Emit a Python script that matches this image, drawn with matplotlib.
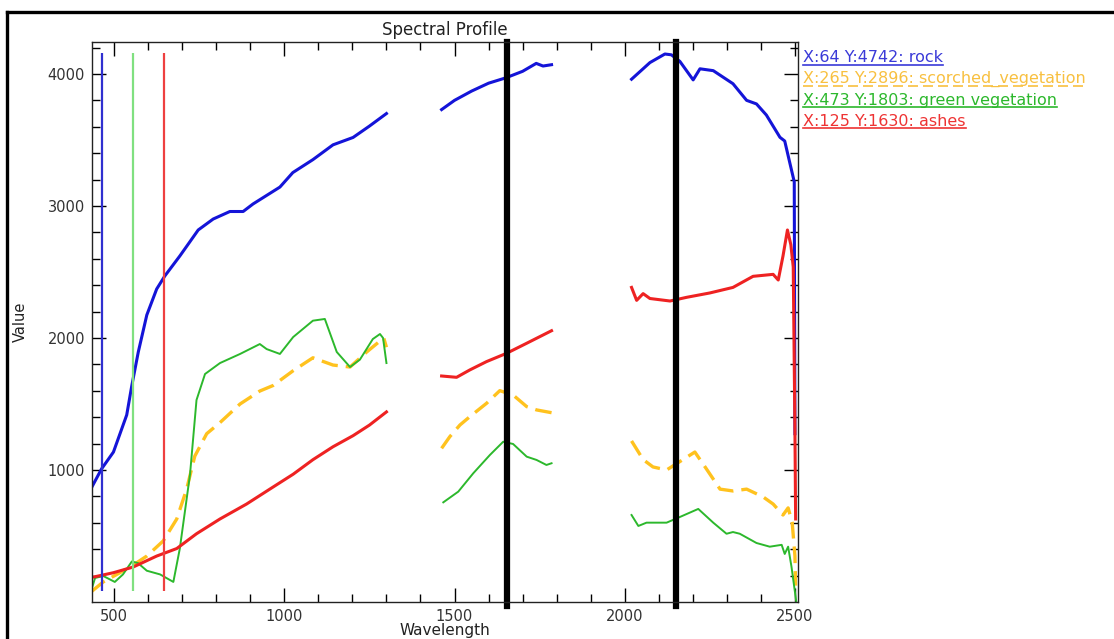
import numpy as np
import matplotlib
matplotlib.use("Agg")
import matplotlib.pyplot as plt
from matplotlib.lines import Line2D

nan = np.nan

# ---------------- data ----------------
rock_wl = [434, 463, 498, 537, 552, 571, 596, 625, 649, 693, 747, 791, 840, 879, 908,
           987, 1025, 1084, 1143, 1202, 1250, 1300, nan,
           1462, 1500, 1550, 1600, 1650, 1700, 1740, 1760, 1785, nan,
           2020, 2074, 2118, 2137, 2162, 2201, 2221, 2260, 2318, 2358, 2387, 2416,
           2456, 2470, 2485, 2498, 2500]
rock_val = [868, 1008, 1136, 1417, 1640, 1894, 2174, 2371, 2470, 2621, 2818, 2901, 2958, 2958, 3015,
            3143, 3253, 3351, 3463, 3519, 3605, 3700, nan,
            3730, 3800, 3870, 3930, 3970, 4020, 4080, 4060, 4070, nan,
            3960, 4086, 4151, 4145, 4095, 3955, 4039, 4025, 3926, 3800, 3773, 3689,
            3520, 3492, 3326, 3183, 1275]

scorched_wl = [434, 468, 517, 556, 596, 644, 684, 713, 737, 772, 811, 870, 928, 967,
               1026, 1084, 1143, 1193, 1242, 1281, 1292, 1300, nan,
               1462, 1486, 1516, 1545, 1594, 1633, 1672, 1712, 1741, 1785, nan,
               2020, 2054, 2083, 2123, 2162, 2206, 2240, 2280, 2318, 2358, 2406, 2436,
               2465, 2480, 2492, 2500, 2502]
scorched_val = [80, 152, 222, 280, 348, 462, 629, 855, 1105, 1275, 1359, 1500, 1598, 1640,
                1752, 1850, 1795, 1780, 1894, 1977, 2000, 1930, nan,
                1164, 1252, 1341, 1404, 1505, 1601, 1568, 1480, 1455, 1434, nan,
                1220, 1079, 1023, 1000, 1064, 1136, 1008, 855, 841, 855, 797, 742,
                659, 713, 601, 348, 124]

green_wl = [434, 444, 468, 502, 526, 552, 570, 596, 635, 674, 693, 723, 742, 767, 811,
            870, 928, 948, 987, 1026, 1084, 1119, 1154, 1193, 1222, 1260, 1281, 1290,
            1300, nan,
            1467, 1511, 1555, 1604, 1643, 1672, 1712, 1741, 1770, 1785, nan,
            2020, 2040, 2064, 2123, 2162, 2216, 2260, 2299, 2318, 2338, 2387, 2426,
            2461, 2470, 2480, 2490, 2504]
green_val = [98, 182, 197, 152, 209, 307, 295, 237, 209, 152, 405, 968, 1530, 1727, 1810,
             1879, 1954, 1916, 1879, 2007, 2131, 2144, 1894, 1780, 1836, 1992, 2030, 2000,
             1810, nan,
             755, 836, 975, 1114, 1214, 1197, 1101, 1076, 1038, 1051, nan,
             659, 576, 601, 601, 644, 705, 601, 517, 530, 517, 447, 419,
             433, 364, 419, 265, 0]

ashes_wl = [434, 498, 556, 625, 684, 742, 811, 889, 967, 1026, 1084, 1143, 1202, 1250,
            1300, nan,
            1462, 1506, 1545, 1594, 1653, 1712, 1785, nan,
            2020, 2035, 2054, 2074, 2133, 2182, 2250, 2318, 2377, 2436, 2451, 2465,
            2478, 2488, 2495, 2500, 2502]
ashes_val = [186, 222, 265, 348, 405, 517, 629, 742, 871, 968, 1078, 1176, 1260, 1340,
             1440, nan,
             1712, 1702, 1758, 1821, 1884, 1960, 2055, nan,
             2383, 2285, 2336, 2299, 2280, 2308, 2341, 2383, 2467, 2482, 2439, 2622,
             2818, 2706, 2538, 1300, 629]

marker_wl = [464, 555, 646]          # coloured cursor lines (rock, green, ashes)
marker_range = [83, 4159]
black_wl = [1654, 2152]              # thick black lines

legend_labels = ["X:64 Y:4742: rock",
                 "X:265 Y:2896: scorched_vegetation",
                 "X:473 Y:1803: green vegetation",
                 "X:125 Y:1630: ashes"]

x_ticks = [500, 1000, 1500, 2000, 2500]
y_ticks = [1000, 2000, 3000, 4000]

# ---------------- style ----------------
C_ROCK = "#1414d8"
C_SCOR = "#ffc21e"
C_GREEN = "#2cb82c"
C_ASH = "#ee2222"
legend_colors = ["#3a3ad8", "#f8c040", "#2cb82c", "#ee3333"]
legend_dashed = [False, True, False, False]
marker_colors = ["#3030d0", "#80e080", "#ee4040"]

fig = plt.figure(figsize=(11.14, 6.39), dpi=100)
fig.patch.set_facecolor("white")

ax = fig.add_axes([92/1114, 1-602/639, (798-92)/1114, (602-42)/639])

ax.plot(rock_wl, rock_val, color=C_ROCK, lw=2.2, solid_joinstyle="round")
ax.plot(scorched_wl, scorched_val, color=C_SCOR, lw=2.4, dashes=(5, 2.4))
ax.plot(green_wl, green_val, color=C_GREEN, lw=1.4)
ax.plot(ashes_wl, ashes_val, color=C_ASH, lw=2.2)

for x, c in zip(marker_wl, marker_colors):
    ax.vlines(x, marker_range[0], marker_range[1], color=c, lw=1.6)
for x in black_wl:
    ax.axvline(x, ymin=-0.008, ymax=1.0, color="black", lw=4.5, clip_on=False)

ax.set_xlim(435, 2509)
ax.set_ylim(0, 4242)
ax.set_xticks(x_ticks)
ax.set_xticks(np.arange(500, 2501, 100), minor=True)
ax.set_yticks(y_ticks)
ax.set_yticks(np.arange(200, 4201, 200), minor=True)
ax.tick_params(which="both", direction="in", top=True, right=True,
               labelsize=10.5, labelcolor="#333333", width=1)
ax.tick_params(which="major", length=10, pad=5)
ax.tick_params(which="minor", length=6)
for s in ax.spines.values():
    s.set_linewidth(1.0)
    s.set_color("#222222")

ax.set_title("Spectral Profile", fontsize=12, pad=5, color="#222222")
ax.set_xlabel("Wavelength", fontsize=11, labelpad=-1, color="#222222")
ax.set_ylabel("Value", fontsize=10.5, labelpad=14, color="#222222")

# outer frame (left and top edges visible)
fig.add_artist(Line2D([7/1114, 7/1114], [0, 1-12/639], transform=fig.transFigure,
                      color="black", lw=2.4))
fig.add_artist(Line2D([7/1114, 1], [1-12/639, 1-12/639], transform=fig.transFigure,
                      color="black", lw=2.4))

# legend with underlined labels
ys = [58, 79, 100, 121]
texts = []
for lab, col, y in zip(legend_labels, legend_colors, ys):
    t = fig.text(803/1114, 1-y/639, lab, color=col, fontsize=11.5,
                 ha="left", va="center")
    texts.append(t)
fig.canvas.draw()
r = fig.canvas.get_renderer()
for t, col, dsh in zip(texts, legend_colors, legend_dashed):
    bb = t.get_window_extent(renderer=r).transformed(fig.transFigure.inverted())
    ln = Line2D([bb.x0, bb.x1], [bb.y0 + 0.001, bb.y0 + 0.001],
                transform=fig.transFigure, color=col, lw=1.2)
    if dsh:
        ln.set_dashes((6, 3))
    fig.add_artist(ln)

fig.savefig("out.png", dpi=100, facecolor="white")
